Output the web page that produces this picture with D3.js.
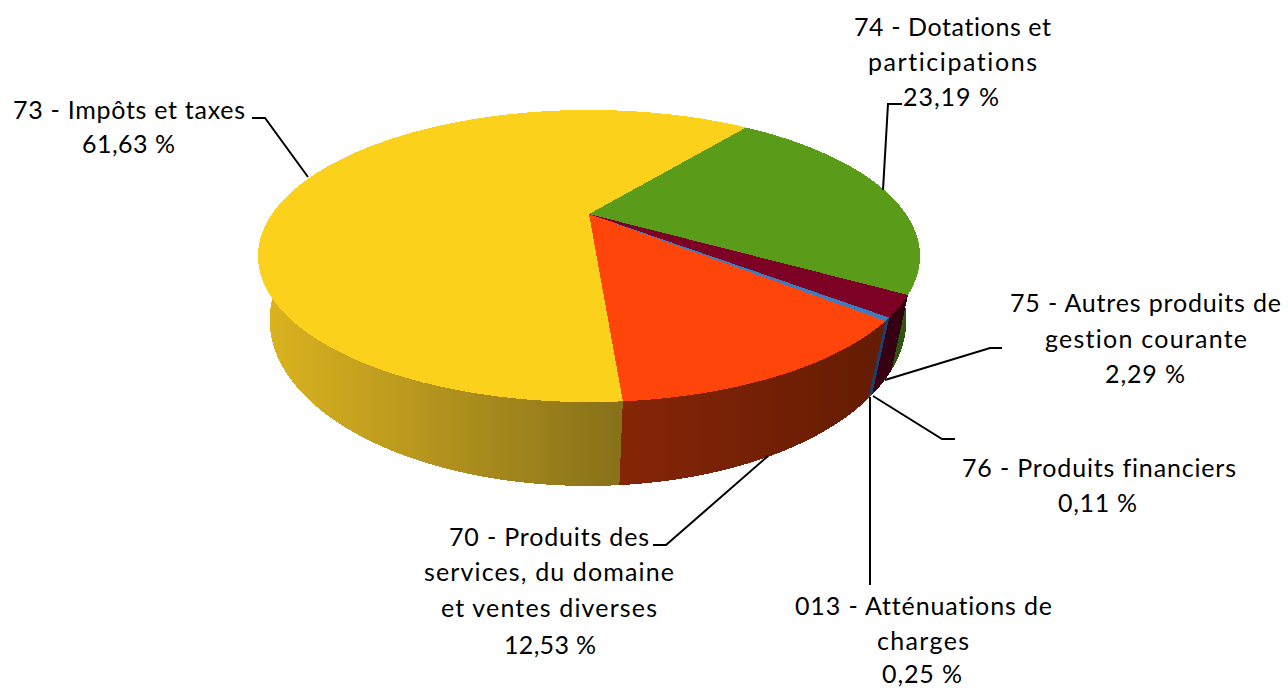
<!DOCTYPE html>
<html><head><meta charset="utf-8">
<script src="https://cdn.jsdelivr.net/npm/d3@7"></script>
<style>html,body{margin:0;background:#fff}svg{display:block}</style></head>
<body><svg id="c" width="1288" height="688"></svg>
<script>
const categories = ["74","75","76","013","70","73"];
const shares = [23.19,2.29,0.11,0.25,12.53,61.63];
const topColors = ["#5A9C1A","#7D0025","#3E7CC0","#3E7CC0","#FF450A","#FCD11C"];
const wallFrom = ["#2F5610","#3A0016","#1F3F6B","#1F3F6B","#862508","#DDB520"];
const wallTo = ["#2F5610","#30000F","#1F3F6B","#1F3F6B","#641C02","#87701A"];
const labelLines = [
 ["74 - Dotations et","participations","23,19 %"],
 ["75 - Autres produits de","gestion courante","2,29 %"],
 ["76 - Produits financiers","0,11 %"],
 ["013 - Atténuations de","charges","0,25 %"],
 ["70 - Produits des","services, du domaine","et ventes diverses","12,53 %"],
 ["73 - Impôts et taxes","61,63 %"]
];
// layout of label lines: [left, right, baseline]
const labelBoxes = [
 [[854,1051,36],[868,1037,71],[903,999,106]],
 [[1010,1281,312],[1045,1247,348],[1105,1185,383]],
 [[962,1236,477],[1058,1137,512]],
 [[795,1052,615],[877,969,650],[882,962,683]],
 [[449,649,546],[424,674,581],[441,657,617],[504,596,654]],
 [[13,245,119],[82,175,153]]
];
const leaders = [
 [[902,104],[888,104],[883,190]],
 [[1002,348],[990,348],[885,380]],
 [[955,439],[942,439],[873,396]],
 [[870,585],[870,397]],
 [[653,545],[666,545],[768,456]],
 [[252,118],[265,118],[308,177]]
];

const svg = d3.select("#c");
const startDeg = 37.5;
const pie = d3.pie().sort(null)
  .startAngle(startDeg*Math.PI/180).endAngle((startDeg+360)*Math.PI/180);
const arcs = pie(shares);

// perspective projection of the disc: homography on the pie plane
function planeProjector(cx,b,a,c,R){
  return t=>{const X=Math.sin(t),Y=-Math.cos(t),d=1+c*Y;
    return [cx+R*X/d,(a*Y+b)/d];};
}
const topP = planeProjector(589,214,72.4,-0.2877,317);
const botP = planeProjector(588,278,85,-0.253,308);
const line = d3.line();
const samples=(a0,a1)=>{const n=Math.max(2,Math.ceil((a1-a0)*180/Math.PI));
  return d3.range(n+1).map(i=>a0+(a1-a0)*i/n);};

const defs = svg.append("defs");
// walls, back to front
const vis0=Math.PI*0.45, vis1=Math.PI*1.6;
arcs.forEach((d,i)=>{
  const a0=Math.max(d.startAngle,vis0), a1=Math.min(d.endAngle,vis1);
  if(a1<=a0) return;
  const ts=samples(a0,a1);
  const topPts=ts.map(topP), botPts=ts.map(botP);
  const [minX,maxX]=d3.extent(topPts.concat(botPts),p=>p[0]);
  const g=defs.append("linearGradient").attr("id","w"+i).attr("gradientUnits","userSpaceOnUse")
    .attr("x1",minX).attr("x2",maxX).attr("y1",0).attr("y2",0);
  g.append("stop").attr("offset",0).attr("stop-color",wallFrom[i]);
  g.append("stop").attr("offset",1).attr("stop-color",wallTo[i]);
  svg.append("path").attr("d",line(topPts.concat(botPts.reverse()))+"Z")
    .attr("fill",`url(#w${i})`).attr("shape-rendering","crispEdges");
});
// top faces
arcs.forEach((d,i)=>{
  const pts=[[589,214]];
  svg.append("path").attr("d",line(pts.concat(samples(d.startAngle,d.endAngle).map(topP)))+"Z")
    .attr("fill",topColors[i]).attr("shape-rendering","crispEdges");
});
// leaders
leaders.forEach(l=>svg.append("path").attr("d",line(l)).attr("fill","none")
  .attr("stroke","#000").attr("stroke-width",2));
// labels
labelLines.forEach((lines,i)=>lines.forEach((s,j)=>{
  const [l,r,y]=labelBoxes[i][j];
  svg.append("text").attr("x",l).attr("y",y).attr("textLength",r-l).attr("lengthAdjust","spacing")
    .style("font-variant-ligatures","none")
    .attr("font-family","Lato, 'Open Sans', sans-serif").attr("font-size",25).attr("fill","#000").text(s);
}));
</script></body></html>
